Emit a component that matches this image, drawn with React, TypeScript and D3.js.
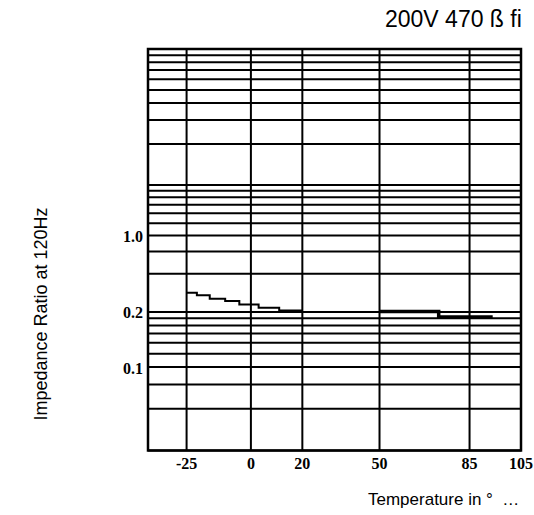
import { useRef, useEffect } from "react";
import * as d3 from "d3";

// temperature axis (°C)
const tempTicks = [-25, 0, 20, 50, 85, 105];
const tempTickLabels = ["-25", "0", "20", "50", "85", "105"];
const tempGrid = [-25, 0, 20, 50, 85];

// impedance ratio axis (log)
const ratioTicks = [1.0, 0.25, 0.1];
const ratioTickLabels = ["1.0", "0.2", "0.1"];
const ratioDecades = [0.025, 0.25, 2.5];
const ratioMinor = [1, 2, 3, 4, 5, 6, 7, 8, 9];

// curves
const lowTemps = [-25, -21, -16, -10, -4.5, 3, 11, 20];
const lowRatio = [0.355, 0.338, 0.318, 0.305, 0.287, 0.27, 0.257, 0.257];
const highTemps = [50, 73, 94];
const highRatio = [0.252, 0.23, 0.23];

const WIDTH = 534;
const HEIGHT = 515;

export default function App() {
    const svgRef = useRef<SVGSVGElement>(null);

    useEffect(() => {
        if (!svgRef.current) return;
        const svg = d3.select(svgRef.current);
        svg.selectAll("*").remove();

        const x = d3.scaleLinear().domain([-40, 105]).range([148, 521]);
        // scanned chart: decades are not quite equal, so piecewise log
        const y = d3
            .scaleLog()
            .domain([0.025, 0.25, 2.5, 25])
            .range([450.5, 312, 185, 49]);

        const gridValues = ratioDecades
            .flatMap((d) => ratioMinor.map((k) => k * d))
            .concat([25]);

        const grid = svg.append("g").attr("stroke", "#000").attr("stroke-width", 2);

        grid.selectAll(".h")
            .data(gridValues)
            .enter()
            .append("line")
            .attr("class", "h")
            .attr("x1", x(-40))
            .attr("x2", x(105))
            .attr("y1", (d) => y(d))
            .attr("y2", (d) => y(d));

        grid.selectAll(".v")
            .data(tempGrid)
            .enter()
            .append("line")
            .attr("class", "v")
            .attr("x1", (d) => x(d))
            .attr("x2", (d) => x(d))
            .attr("y1", y(25))
            .attr("y2", y(0.025));

        svg.append("rect")
            .attr("x", x(-40))
            .attr("y", y(25))
            .attr("width", x(105) - x(-40))
            .attr("height", y(0.025) - y(25))
            .attr("fill", "none")
            .attr("stroke", "#000")
            .attr("stroke-width", 2.5);

        const line = d3
            .line<[number, number]>()
            .x((d) => x(d[0]))
            .y((d) => y(d[1]))
            .curve(d3.curveStepAfter);

        svg.append("path")
            .datum(lowTemps.map((t, i) => [t, lowRatio[i]] as [number, number]))
            .attr("d", line)
            .attr("fill", "none")
            .attr("stroke", "#000")
            .attr("stroke-width", 2);

        svg.append("path")
            .datum(highTemps.map((t, i) => [t, highRatio[i]] as [number, number]))
            .attr("d", line)
            .attr("fill", "none")
            .attr("stroke", "#000")
            .attr("stroke-width", 3.5);

        // tick labels
        svg.append("g")
            .selectAll("text")
            .data(tempTicks)
            .enter()
            .append("text")
            .attr("x", (d) => x(d))
            .attr("y", 469)
            .attr("text-anchor", "middle")
            .attr("font-family", "Liberation Serif, serif")
            .attr("font-weight", "bold")
            .attr("font-size", 16)
            .text((_, i) => tempTickLabels[i]);

        svg.append("g")
            .selectAll("text")
            .data(ratioTicks)
            .enter()
            .append("text")
            .attr("x", 143)
            .attr("y", (d) => y(d))
            .attr("dy", "0.4em")
            .attr("text-anchor", "end")
            .attr("font-family", "Liberation Serif, serif")
            .attr("font-weight", "bold")
            .attr("font-size", 16)
            .text((_, i) => ratioTickLabels[i]);

        // titles
        svg.append("text")
            .attr("x", 385)
            .attr("y", 27)
            .attr("font-family", "Liberation Sans, Arial, sans-serif")
            .attr("font-size", 23)
            .text("200V 470 ß fi");

        svg.append("text")
            .attr("x", 368)
            .attr("y", 505)
            .attr("font-family", "Liberation Sans, Arial, sans-serif")
            .attr("font-size", 17)
            .attr("xml:space", "preserve")
            .style("white-space", "pre")
            .text("Temperature in °  …");

        svg.append("text")
            .attr("transform", "translate(47, 314) rotate(-90)")
            .attr("text-anchor", "middle")
            .attr("font-family", "Liberation Sans, Arial, sans-serif")
            .attr("font-size", 18)
            .text("Impedance Ratio at 120Hz");
    }, []);

    return (
        <svg
            ref={svgRef}
            width={WIDTH}
            height={HEIGHT}
            style={{ position: "absolute", left: 0, top: 0, background: "#fff" }}
        />
    );
}
